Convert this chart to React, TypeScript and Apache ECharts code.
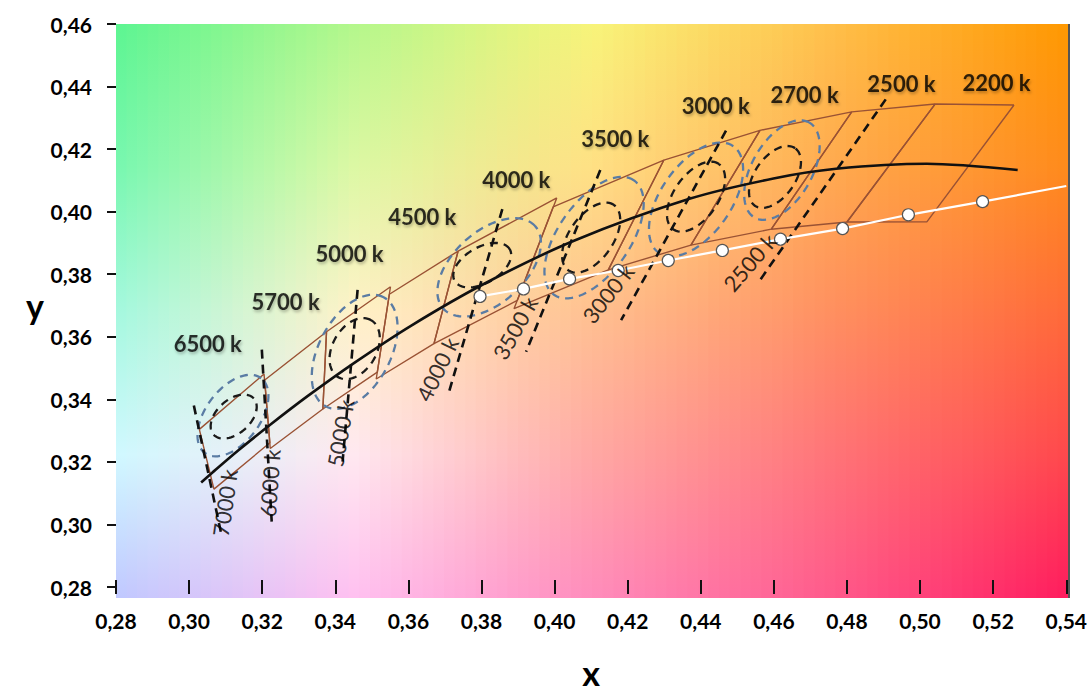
import React, { useEffect, useRef } from "react";
import * as echarts from "echarts";

// ---------- axes ----------
const X_MIN = 0.28;
const X_MAX = 0.54;
const Y_MIN = 0.28;
const Y_MAX = 0.46;
const STEP = 0.02;

// ---------- Planckian locus (black) ----------
const LOCUS_X = [0.3033, 0.3064, 0.3135, 0.3221, 0.3325, 0.3451, 0.3608, 0.3805, 0.4053, 0.4369, 0.4599, 0.477, 0.5018, 0.5267];
const LOCUS_Y = [0.3134, 0.3166, 0.3237, 0.3318, 0.3411, 0.3516, 0.3636, 0.3768, 0.3907, 0.4041, 0.4106, 0.4137, 0.4153, 0.4133];

// ---------- white line with markers ----------
const WHITE_X = [0.3796, 0.3915, 0.4041, 0.4174, 0.4311, 0.4459, 0.4618, 0.4788, 0.4968, 0.5171];
const WHITE_Y = [0.3729, 0.3753, 0.3785, 0.3812, 0.3844, 0.3876, 0.3912, 0.3946, 0.399, 0.4032];
const WHITE_END_X = 0.54;
const WHITE_END_Y = 0.4082;

// ---------- quadrangles (brown) ----------
const QUAD_NAMES = ["6500", "5700", "5000", "4500", "4000", "3500", "3000", "2700", "2500", "2200"];
const QUAD_X = [
  [0.3205, 0.3028, 0.3068, 0.3221],
  [0.3376, 0.3207, 0.3222, 0.3366],
  [0.3551, 0.3376, 0.3366, 0.3515],
  [0.3736, 0.3548, 0.3512, 0.367],
  [0.4006, 0.3736, 0.367, 0.3898],
  [0.4299, 0.3996, 0.3889, 0.4147],
  [0.4562, 0.4299, 0.4147, 0.4373],
  [0.4813, 0.4562, 0.4373, 0.4593],
  [0.5041, 0.4813, 0.4593, 0.48],
  [0.5257, 0.5041, 0.48, 0.5019],
];
const QUAD_Y = [
  [0.3481, 0.3304, 0.3113, 0.3261],
  [0.3616, 0.3462, 0.3243, 0.3369],
  [0.376, 0.3616, 0.3369, 0.3487],
  [0.3874, 0.3736, 0.3465, 0.3578],
  [0.4044, 0.3874, 0.3578, 0.3716],
  [0.4165, 0.4015, 0.369, 0.3814],
  [0.426, 0.4165, 0.3814, 0.3893],
  [0.4319, 0.426, 0.3893, 0.3944],
  [0.4344, 0.4319, 0.3944, 0.3967],
  [0.4341, 0.4344, 0.3967, 0.3968],
];

// ---------- isotherms (black dashed) ----------
const ISO_LABELS = ["7000 k", "6000 k", "5000 k", "4000 k", "3500 k", "3000 k", "2500 k"];
const ISO_X1 = [0.3013, 0.3199, 0.3461, 0.3857, 0.4125, 0.4469, 0.4906];
const ISO_Y1 = [0.338, 0.3559, 0.375, 0.4008, 0.4133, 0.4259, 0.4359];
const ISO_X2 = [0.309, 0.3226, 0.342, 0.3712, 0.3922, 0.4182, 0.4562];
const ISO_Y2 = [0.2959, 0.3009, 0.3201, 0.3427, 0.3552, 0.3653, 0.3781];
const ISO_LABEL_X = [0.3098, 0.3221, 0.3414, 0.3679, 0.3892, 0.4146, 0.4534];
const ISO_LABEL_Y = [0.3069, 0.3132, 0.3292, 0.3496, 0.3628, 0.3738, 0.3838];
const ISO_LABEL_ROT = [82, 86, 80, 64, 61, 52, 49];

// ---------- top CCT labels ----------
const TOP_LABELS = ["6500 k", "5700 k", "5000 k", "4500 k", "4000 k", "3500 k", "3000 k", "2700 k", "2500 k", "2200 k"];
const TOP_X = [0.3051, 0.3264, 0.3439, 0.3638, 0.3895, 0.4166, 0.4441, 0.4684, 0.4949, 0.5209];
const TOP_Y = [0.3577, 0.3712, 0.3866, 0.3986, 0.4102, 0.4234, 0.434, 0.4375, 0.4409, 0.4413];

// ---------- ellipses: [cx, cy, semi-major, semi-minor (x units), angle deg] ----------
const ELLIPSE_OUTER = [
  [0.312, 0.3348, 0.0128, 0.0074, 53],
  [0.3453, 0.3552, 0.0169, 0.0098, 62],
  [0.3821, 0.3822, 0.0169, 0.0098, 42],
  [0.4108, 0.3917, 0.0191, 0.0098, 55],
  [0.4387, 0.4039, 0.0178, 0.0096, 55],
  [0.4622, 0.4133, 0.015, 0.0082, 60],
];
const ELLIPSE_INNER = [
  [0.3122, 0.3345, 0.0074, 0.0046, 42],
  [0.3453, 0.3562, 0.009, 0.006, 60],
  [0.3802, 0.3829, 0.0087, 0.0049, 30],
  [0.41, 0.3917, 0.0109, 0.006, 55],
  [0.4387, 0.4048, 0.0109, 0.006, 55],
  [0.4603, 0.4111, 0.0096, 0.0055, 55],
];

// ---------- background colour field ----------
const BG_ROWS = [
  ["#5cf591", "#b4f78c", "#f8f47a", "#ffc04a", "#ff9800"],
  ["#78f7b0", "#dcf8a4", "#ffe084", "#ffaa50", "#ff8a1c"],
  ["#a4f8de", "#fff2c8", "#ffc090", "#ff9060", "#ff6a38"],
  ["#d0f8ff", "#ffe8f0", "#ffa8a4", "#ff7478", "#ff484c"],
  ["#c0c8ff", "#ffc0f0", "#ff8cbc", "#ff5a8c", "#ff1c5e"],
];

const FONT = "Lato, 'Open Sans', sans-serif";
const fmt = (v: number) => v.toFixed(2).replace(".", ",");

function hexToRgb(h: string) {
  const n = parseInt(h.slice(1), 16);
  return [(n >> 16) & 255, (n >> 8) & 255, n & 255];
}
function lerpRow(row: string[], f: number) {
  const p = f * (row.length - 1);
  const i = Math.min(Math.floor(p), row.length - 2);
  const t = p - i;
  const a = hexToRgb(row[i]);
  const b = hexToRgb(row[i + 1]);
  const c = a.map((v, k) => Math.round(v + (b[k] - v) * t));
  return `rgb(${c[0]},${c[1]},${c[2]})`;
}

const GRID = { left: 116, right: 22, top: 24, bottom: 96 };
const W = 1090;
const H = 694;

function ellipseRenderer(stroke: string) {
  return (params: any, api: any) => {
    const cx = api.value(0);
    const cy = api.value(1);
    const a = api.value(2);
    const b = api.value(3);
    const ang = (api.value(4) * Math.PI) / 180;
    const c = api.coord([cx, cy]);
    const A = api.size([a, 0])[0];
    const B = api.size([b, 0])[0];
    const pts: number[][] = [];
    const n = 80;
    for (let k = 0; k <= n; k++) {
      const t = (k / n) * Math.PI * 2;
      const ex = A * Math.cos(t);
      const ey = B * Math.sin(t);
      pts.push([c[0] + ex * Math.cos(ang) - ey * Math.sin(ang), c[1] - (ex * Math.sin(ang) + ey * Math.cos(ang))]);
    }
    return {
      type: "polyline",
      shape: { points: pts },
      style: { stroke, lineWidth: 2.3, lineDash: [8, 6], fill: "none" },
      silent: true,
    };
  };
}

export default function App() {
  const ref = useRef<HTMLDivElement>(null);
  useEffect(() => {
    document.body.style.margin = "0";
    if (!ref.current) return;
    const chart = echarts.init(ref.current, undefined, { renderer: "svg" });

    const pw = W - GRID.left - GRID.right;
    const ph = H - GRID.top - GRID.bottom;
    const N = 90;
    const sw = pw / N;
    const bg: any[] = [];
    for (let i = 0; i < N; i++) {
      const fx = (i + 0.5) / N;
      const stops = BG_ROWS.map((row, r) => ({ offset: r / (BG_ROWS.length - 1), color: lerpRow(row, fx) }));
      bg.push({
        type: "rect",
        silent: true,
        z: -10,
        shape: { x: GRID.left + i * sw, y: GRID.top, width: sw + 0.8, height: ph },
        style: { fill: { type: "linear", x: 0, y: 0, x2: 0, y2: 1, colorStops: stops } },
      });
    }
    bg.push({
      type: "line",
      silent: true,
      z: -9,
      shape: { x1: W - GRID.right + 1, y1: GRID.top, x2: W - GRID.right + 1, y2: H - GRID.bottom },
      style: { stroke: "#555", lineWidth: 2 },
    });

    const series: any[] = [];

    QUAD_NAMES.forEach((name, q) => {
      const pts = QUAD_X[q].map((x, k) => [x, QUAD_Y[q][k]]);
      pts.push(pts[0]);
      series.push({
        type: "line",
        name: "Q" + name,
        data: pts,
        symbol: "none",
        silent: true,
        z: 3,
        lineStyle: { color: "#9a5234", width: 1.4 },
      });
    });

    series.push({
      type: "custom",
      name: "outer",
      coordinateSystem: "cartesian2d",
      encode: { x: 0, y: 1 },
      data: ELLIPSE_OUTER,
      renderItem: ellipseRenderer("#5a7ca4"),
      z: 4,
      silent: true,
    });
    series.push({
      type: "custom",
      name: "inner",
      coordinateSystem: "cartesian2d",
      encode: { x: 0, y: 1 },
      data: ELLIPSE_INNER,
      renderItem: ellipseRenderer("#1a1a1a"),
      z: 4,
      silent: true,
    });

    ISO_LABELS.forEach((lab, i) => {
      series.push({
        type: "line",
        name: "iso" + lab,
        data: [
          [ISO_X1[i], ISO_Y1[i]],
          [ISO_X2[i], ISO_Y2[i]],
        ],
        symbol: "none",
        silent: true,
        z: 5,
        lineStyle: { color: "#111", width: 2.6, type: [9, 6] },
      });
    });

    series.push({
      type: "line",
      name: "locus",
      data: LOCUS_X.map((x, i) => [x, LOCUS_Y[i]]),
      symbol: "none",
      smooth: 0.3,
      silent: true,
      z: 6,
      lineStyle: { color: "#111", width: 2.6 },
    });

    series.push({
      type: "line",
      name: "white",
      data: [
        ...WHITE_X.map((x, i) => [x, WHITE_Y[i]]),
        { value: [WHITE_END_X, WHITE_END_Y], symbol: "none" },
      ],
      symbol: "circle",
      symbolSize: 12,
      silent: true,
      z: 7,
      lineStyle: { color: "#ffffff", width: 2.2 },
      itemStyle: { color: "#ffffff", borderColor: "#555", borderWidth: 1.2 },
    });

    series.push({
      type: "scatter",
      name: "isoLabels",
      silent: true,
      z: 8,
      symbolSize: 1,
      itemStyle: { color: "rgba(0,0,0,0)" },
      data: ISO_LABELS.map((lab, i) => ({
        value: [ISO_LABEL_X[i], ISO_LABEL_Y[i]],
        name: lab,
        label: { rotate: ISO_LABEL_ROT[i] },
      })),
      label: {
        show: true,
        position: "inside",
        formatter: (p: any) => p.name,
        fontFamily: FONT,
        fontSize: 22,
        color: "#000",
        align: "center",
        verticalAlign: "middle",
      },
    });

    series.push({
      type: "scatter",
      name: "topLabels",
      silent: true,
      z: 8,
      symbolSize: 1,
      itemStyle: { color: "rgba(0,0,0,0)" },
      data: TOP_LABELS.map((lab, i) => ({ value: [TOP_X[i], TOP_Y[i]], name: lab })),
      label: {
        show: true,
        position: "inside",
        formatter: (p: any) => p.name,
        fontFamily: FONT,
        fontWeight: "bold",
        fontSize: 22,
        color: "#000",
        align: "center",
        verticalAlign: "middle",
        textShadowColor: "rgba(0,0,0,0.35)",
        textShadowBlur: 3,
        textShadowOffsetX: 1,
        textShadowOffsetY: 2,
      },
    });

    const axisLabelStyle = {
      fontFamily: FONT,
      fontWeight: "bold",
      fontSize: 21,
      color: "#000",
      formatter: fmt,
    };
    const axisLine = {
      show: true,
      lineStyle: { color: "#111", width: 2, shadowColor: "rgba(0,0,0,0.45)", shadowBlur: 3, shadowOffsetY: 2 },
    };

    chart.setOption({
      animation: false,
      backgroundColor: "#ffffff",
      grid: { ...GRID, containLabel: false },
      graphic: { elements: bg },
      xAxis: [
        {
          type: "value",
          position: "bottom",
          min: X_MIN,
          max: X_MAX,
          interval: STEP,
          axisLine,
          axisTick: { show: true, length: 7, lineStyle: { color: "#111", width: 2 } },
          splitLine: { show: false },
          axisLabel: { ...axisLabelStyle, margin: 23 },
          name: "x",
          nameLocation: "middle",
          nameGap: 68,
          nameTextStyle: { fontFamily: FONT, fontWeight: "bold", fontSize: 34, color: "#000" },
        },
        {
          type: "value",
          position: "bottom",
          min: X_MIN,
          max: X_MAX,
          interval: STEP,
          axisLine: { show: false },
          axisTick: { show: true, inside: true, length: 7, lineStyle: { color: "#111", width: 2 } },
          splitLine: { show: false },
          axisLabel: { show: false },
        },
      ],
      yAxis: {
        type: "value",
        min: Y_MIN,
        max: Y_MAX,
        interval: STEP,
        axisLine,
        axisTick: { show: true, length: 9, lineStyle: { color: "#111", width: 2 } },
        splitLine: { show: false },
        axisLabel: { ...axisLabelStyle, margin: 24 },
        name: "y",
        nameLocation: "middle",
        nameGap: 72,
        nameRotate: 0,
        nameTextStyle: { fontFamily: FONT, fontWeight: "bold", fontSize: 34, color: "#000" },
      },
      series,
    });

    return () => chart.dispose();
  }, []);

  return <div ref={ref} style={{ width: W, height: H }} />;
}
